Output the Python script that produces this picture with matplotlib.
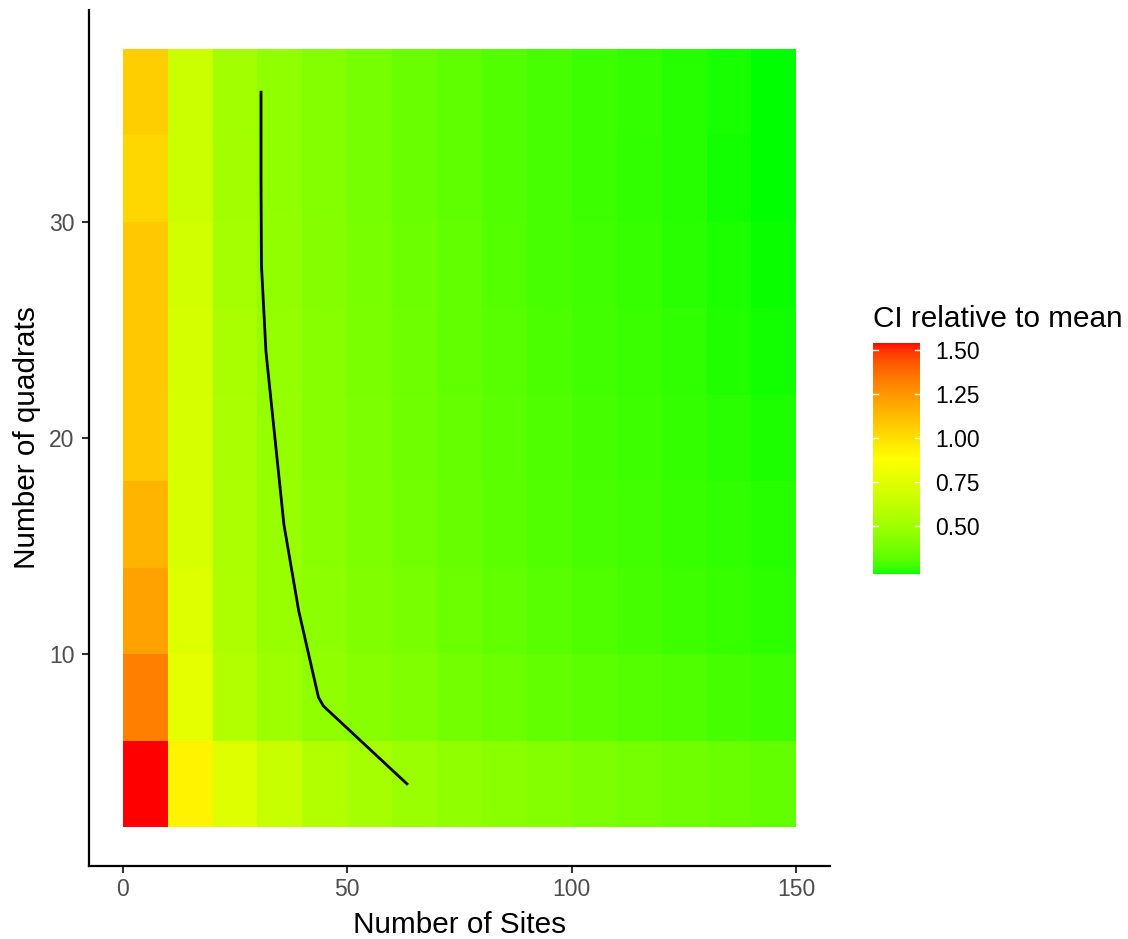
import numpy as np
import matplotlib
matplotlib.use("Agg")
import matplotlib.pyplot as plt
from matplotlib.colors import ListedColormap, Normalize

plt.rcParams['font.family'] = ['Liberation Sans', 'DejaVu Sans']

# tile centres
sites = [5, 15, 25, 35, 45, 55, 65, 75, 85, 95, 105, 115, 125, 135, 145]
quadrats = [4, 8, 12, 16, 20, 24, 28, 32, 36]

# CI relative to mean, one row per quadrat count (bottom to top)
ci = [
    [1.54, 0.93, 0.74, 0.65, 0.575, 0.53, 0.49, 0.46, 0.44, 0.42, 0.40, 0.385, 0.37, 0.355, 0.34],
    [1.32, 0.77, 0.575, 0.50, 0.46, 0.435, 0.41, 0.38, 0.36, 0.34, 0.325, 0.31, 0.30, 0.285, 0.275],
    [1.21, 0.745, 0.555, 0.485, 0.445, 0.415, 0.39, 0.36, 0.335, 0.315, 0.30, 0.285, 0.275, 0.265, 0.255],
    [1.15, 0.715, 0.55, 0.48, 0.44, 0.405, 0.375, 0.35, 0.325, 0.305, 0.29, 0.28, 0.268, 0.258, 0.248],
    [1.08, 0.71, 0.545, 0.475, 0.435, 0.40, 0.37, 0.345, 0.32, 0.30, 0.285, 0.275, 0.263, 0.252, 0.242],
    [1.08, 0.70, 0.54, 0.47, 0.43, 0.395, 0.365, 0.34, 0.315, 0.295, 0.28, 0.27, 0.258, 0.245, 0.236],
    [1.08, 0.69, 0.53, 0.465, 0.425, 0.39, 0.36, 0.335, 0.31, 0.29, 0.277, 0.265, 0.253, 0.242, 0.235],
    [1.03, 0.665, 0.52, 0.46, 0.42, 0.385, 0.355, 0.33, 0.305, 0.287, 0.273, 0.26, 0.25, 0.236, 0.23],
    [1.06, 0.665, 0.515, 0.46, 0.42, 0.385, 0.355, 0.33, 0.305, 0.287, 0.273, 0.262, 0.25, 0.238, 0.232],
]

# sites needed per quadrat count (black line)
line_sites = [63.3, 44.7, 43.6, 39.2, 35.9, 33.9, 31.9, 30.9, 30.8, 30.8]
line_quadrats = [4, 7.6, 8, 12, 16, 20, 24, 28, 32, 36]

cbar_ticks = [0.5, 0.75, 1.0, 1.25, 1.5]

# ggplot interpolates gradientn colours in CIELAB
M = np.array([[0.4124564, 0.3575761, 0.1804375],
              [0.2126729, 0.7151522, 0.0721750],
              [0.0193339, 0.1191920, 0.9503041]])
WHITE = M.sum(axis=1)
D = 6 / 29


def srgb_to_lab(rgb):
    c = np.asarray(rgb, dtype=float)
    lin = np.where(c <= 0.04045, c / 12.92, ((c + 0.055) / 1.055) ** 2.4)
    xyz = lin @ M.T / WHITE
    f = np.where(xyz > D ** 3, np.cbrt(xyz), xyz / (3 * D ** 2) + 4 / 29)
    return np.stack([116 * f[..., 1] - 16,
                     500 * (f[..., 0] - f[..., 1]),
                     200 * (f[..., 1] - f[..., 2])], axis=-1)


def lab_to_srgb(lab):
    fy = (lab[..., 0] + 16) / 116
    fx = fy + lab[..., 1] / 500
    fz = fy - lab[..., 2] / 200
    f = np.stack([fx, fy, fz], axis=-1)
    xyz = np.where(f > D, f ** 3, 3 * D ** 2 * (f - 4 / 29)) * WHITE
    lin = np.clip(xyz @ np.linalg.inv(M).T, 0, 1)
    return np.where(lin <= 0.0031308, 12.92 * lin, 1.055 * lin ** (1 / 2.4) - 0.055)


stops = srgb_to_lab([[0, 1, 0], [1, 1, 0], [1, 0, 0]])
t = np.linspace(0, 1, 512)[:, None]
lab = np.where(t < 0.5,
               stops[0] + (stops[1] - stops[0]) * (t / 0.5),
               stops[1] + (stops[2] - stops[1]) * ((t - 0.5) / 0.5))
cmap = ListedColormap(np.clip(lab_to_srgb(lab), 0, 1))

vals = np.array(ci)
norm = Normalize(vmin=vals.min(), vmax=vals.max())

W, H = 1128, 939
fig = plt.figure(figsize=(W / 100, H / 100), dpi=100)
ax = fig.add_axes([89 / W, 1 - 866 / H, (830 - 89) / W, (866 - 10) / H])

mesh = ax.pcolormesh(sites, quadrats, vals, cmap=cmap, norm=norm,
                     shading='nearest', linewidth=0, antialiased=False)
ax.plot(line_sites, line_quadrats, color='black', lw=2.0, solid_joinstyle='round')

xlo, xhi = sites[0] - 5, sites[-1] + 5
ylo, yhi = quadrats[0] - 2, quadrats[-1] + 2
ax.set_xlim(xlo - 0.05 * (xhi - xlo), xhi + 0.05 * (xhi - xlo))
ax.set_ylim(ylo - 0.05 * (yhi - ylo), yhi + 0.05 * (yhi - ylo))
ax.set_xticks([0, 50, 100, 150])
ax.set_yticks([10, 20, 30])

for side in ['top', 'right']:
    ax.spines[side].set_visible(False)
for side in ['left', 'bottom']:
    ax.spines[side].set_linewidth(1.6)
    ax.spines[side].set_color('black')
ax.tick_params(axis='both', length=5, width=1.5, color='#333333',
               labelcolor='#4D4D4D', labelsize=16.5)
ax.tick_params(axis='x', pad=3.5)
ax.tick_params(axis='y', pad=5.5)

fig.text(459.5 / W, 1 - 933 / H, 'Number of Sites', ha='center', va='baseline',
         fontsize=21.4)
fig.text(35 / W, 1 - 438 / H, 'Number of quadrats', ha='center', va='baseline',
         rotation=90, rotation_mode='anchor', fontsize=21.4)

# colour bar legend
cax = fig.add_axes([873 / W, 1 - 574 / H, 47 / W, 231 / H])
cb = fig.colorbar(mesh, cax=cax, ticks=cbar_ticks)
cb.outline.set_visible(False)
cb.ax.set_yticklabels([f'{v:.2f}' for v in cbar_ticks])
cb.ax.tick_params(length=0, pad=10.8, labelsize=16.5, labelcolor='black')
for v in cbar_ticks:
    cax.plot([0, 0.11], [v, v], color='white', lw=1, transform=cax.get_yaxis_transform())
    cax.plot([0.89, 1], [v, v], color='white', lw=1, transform=cax.get_yaxis_transform())
fig.text(873 / W, 1 - 327 / H, 'CI relative to mean', ha='left', va='baseline',
         fontsize=21.4)

fig.savefig('out.png', dpi=100)
